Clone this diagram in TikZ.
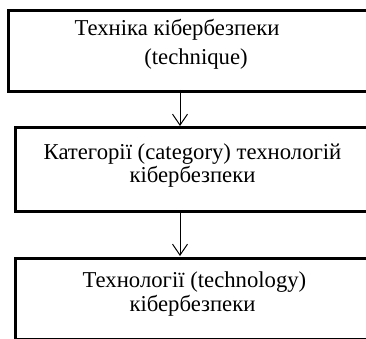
\documentclass[tikz,border=0pt]{standalone}
\usepackage{fontspec}
\setmainfont{Liberation Serif}
\usetikzlibrary{arrows.meta}
\begin{document}
\begin{tikzpicture}[x=1pt,y=1pt,
  boxst/.style={draw=black,line width=3.2pt,rectangle,anchor=north west,inner sep=0pt},
  txt/.style={font=\fontsize{22.7}{26}\selectfont,inner sep=0pt,anchor=base},
  conn/.style={line width=1pt,-{Straight Barb[length=11pt,width=15pt,line width=1pt]}}]
\useasboundingbox (0,0) rectangle (366,-339);
\clip (0,0) rectangle (366,-339);
\node[boxst,minimum width=380pt,minimum height=81pt] (b1) at (7,-9) {};
\node[boxst,minimum width=380pt,minimum height=84pt] (b2) at (14,-126) {};
\node[boxst,minimum width=380pt,minimum height=81pt] (b3) at (14,-257) {};
\node[txt] (t1a) at (177,-36) {Техніка кібербезпеки};
\node[txt] (t1b) at (196,-65) {(technique)};
\node[txt] (t2a) at (192.5,-160) {Категорії (category) технологій};
\node[txt] (t2b) at (192.5,-182) {кібербезпеки};
\node[txt] (t3a) at (194.5,-287) {Технології (technology)};
\node[txt] (t3b) at (192.5,-311) {кібербезпеки};
\coordinate (a1s) at (180,-90);
\coordinate (a1e) at (180,-126);
\coordinate (a2s) at (180,-210);
\coordinate (a2e) at (180,-256);
\draw[conn] (a1s) -- (a1e);
\draw[conn] (a2s) -- (a2e);
\end{tikzpicture}
\end{document}
